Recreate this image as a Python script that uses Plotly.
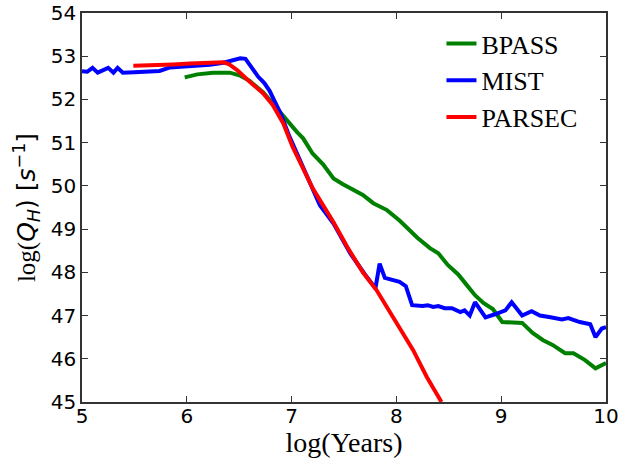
import plotly.graph_objects as go

# log(Years) / log(Q_H)
bpass_x = [5.98, 6.10, 6.25, 6.41, 6.51, 6.60, 6.73, 6.82, 6.92, 7.05, 7.11, 7.20, 7.30, 7.40,
           7.49, 7.59, 7.68, 7.78, 7.91, 8.03, 8.20, 8.32, 8.40, 8.49, 8.59, 8.67, 8.75, 8.83,
           8.92, 9.01, 9.11, 9.20, 9.30, 9.40, 9.49, 9.61, 9.69, 9.80, 9.90, 10.0]
bpass_y = [52.51, 52.58, 52.62, 52.62, 52.55, 52.43, 52.16, 51.90, 51.60, 51.25, 51.10, 50.75,
           50.50, 50.17, 50.04, 49.90, 49.79, 49.60, 49.44, 49.20, 48.80, 48.56, 48.44, 48.17,
           47.95, 47.71, 47.47, 47.29, 47.15, 46.85, 46.85, 46.83, 46.60, 46.43, 46.32, 46.13,
           46.13, 45.97, 45.78, 45.90]

mist_x = [5.0, 5.05, 5.10, 5.15, 5.25, 5.30, 5.34, 5.39, 5.5, 5.6, 5.74, 5.84, 6.0, 6.1, 6.22,
          6.35, 6.45, 6.51, 6.56, 6.63, 6.68, 6.74, 6.79, 6.84, 6.89, 6.98, 7.08, 7.18, 7.27,
          7.40, 7.56, 7.70, 7.80, 7.84, 7.89, 8.03, 8.09, 8.15, 8.25, 8.30, 8.35, 8.40, 8.46,
          8.53, 8.61, 8.65, 8.70, 8.75, 8.85, 8.94, 9.04, 9.10, 9.20, 9.29, 9.37, 9.47, 9.58,
          9.64, 9.69, 9.75, 9.85, 9.90, 9.96, 10.0]
mist_y = [52.65, 52.64, 52.73, 52.62, 52.73, 52.62, 52.73, 52.62, 52.63, 52.64, 52.66, 52.74,
          52.76, 52.78, 52.80, 52.85, 52.92, 52.95, 52.94, 52.68, 52.53, 52.38, 52.20, 51.95,
          51.70, 51.14, 50.58, 50.06, 49.55, 49.13, 48.44, 47.95, 47.63, 48.20, 47.87, 47.78,
          47.68, 47.24, 47.22, 47.24, 47.20, 47.22, 47.17, 47.17, 47.08, 47.12, 47.00, 47.31,
          46.96, 47.03, 47.12, 47.31, 47.00, 47.10, 47.00, 46.96, 46.91, 46.94, 46.90, 46.85,
          46.80, 46.50, 46.70, 46.73]

parsec_x = [5.49, 5.7, 5.87, 6.03, 6.2, 6.35, 6.40, 6.48, 6.60, 6.73, 6.82, 6.92, 7.01, 7.11,
            7.20, 7.27, 7.40, 7.53, 7.68, 7.81, 8.01, 8.16, 8.29, 8.43]
parsec_y = [52.78, 52.79, 52.81, 52.83, 52.84, 52.86, 52.82, 52.68, 52.41, 52.14, 51.87, 51.45,
            50.90, 50.41, 49.95, 49.67, 49.16, 48.59, 48.00, 47.59, 46.82, 46.20, 45.58, 45.0]

fig = go.Figure()
for name, xs, ys, col in [('BPASS', bpass_x, bpass_y, '#008000'),
                          ('MIST', mist_x, mist_y, '#0000ff'),
                          ('PARSEC', parsec_x, parsec_y, '#ff0000')]:
    fig.add_trace(go.Scatter(x=xs, y=ys, mode='lines', name=name,
                             line=dict(color=col, width=4)))

axis_style = dict(showline=True, linecolor='#333333', linewidth=1.5, mirror='ticks',
                  ticks='inside', ticklen=6, tickcolor='#333333', showgrid=False,
                  zeroline=False, automargin=False,
                  tickfont=dict(family='DejaVu Sans', size=20, color='black'))

fig.update_xaxes(range=[5, 10], dtick=1, ticklabelstandoff=-5,
                 title=dict(text='log(Years)', font=dict(family='Liberation Serif', size=28),
                            standoff=0),
                 **axis_style)
fig.update_yaxes(range=[45, 54], dtick=1,
                 title=dict(text="log(<span style='font-family:DejaVu Sans'><i>Q<sub>H</sub></i>) "
                                 "[<i>s</i><sup>\u22121</sup>]</span>",
                            font=dict(family='Liberation Serif', size=25), standoff=8),
                 **axis_style)

fig.update_layout(
    width=620, height=458,
    margin=dict(l=82, r=14, t=13, b=56),
    plot_bgcolor='white', paper_bgcolor='white',
    font=dict(family='Liberation Serif', color='black'),
    legend=dict(x=0.686, y=0.982, xanchor='left', yanchor='top', bgcolor='rgba(0,0,0,0)',
                font=dict(family='Liberation Serif', size=26), tracegroupgap=0),
)

# drop the default body margin so the 620x458 figure fills the window
fig.write_html('out.html', config={'displayModeBar': False},
               post_script="document.body.style.margin='0';")
